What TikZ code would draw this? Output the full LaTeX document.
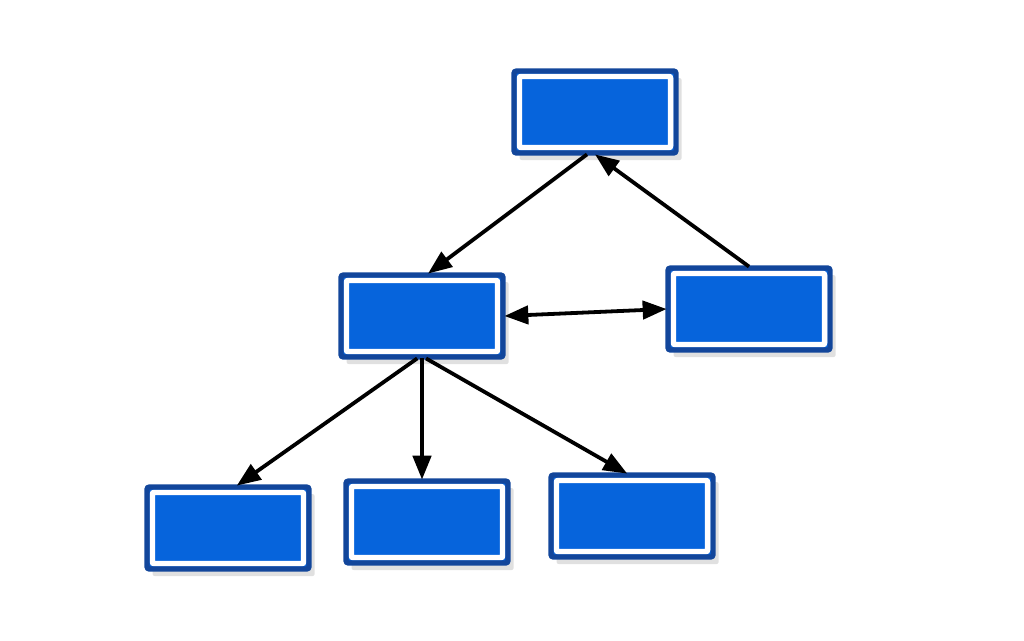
\documentclass[tikz,border=0pt]{standalone}
\usepackage{xcolor}
\usepackage{tikz}
\usetikzlibrary{arrows.meta, shadows}

\definecolor{boxfill}{RGB}{6,100,220}
\definecolor{boxedge}{RGB}{18,70,155}

\begin{document}
\begin{tikzpicture}[
    x=0.025cm, y=-0.025cm,
    unit/.style={
        draw=boxedge,
        fill=boxfill,
        line width=3.6pt,
        rounded corners=1.5pt,
        minimum width=4.05cm,
        minimum height=2.05cm,
        outer sep=1pt,
        drop shadow={shadow xshift=4pt, shadow yshift=-5pt, opacity=0.22, fill=black!55},
        path picture={
            \draw[white, line width=4pt]
                ([shift={(3.8pt,3.8pt)}]path picture bounding box.south west) rectangle
                ([shift={(-3.8pt,-3.8pt)}]path picture bounding box.north east);
        }
    },
    arrow/.style={
        -{Triangle[length=17pt, width=13pt]},
        line width=2.7pt
    },
    twoway/.style={
        {Triangle[length=17pt, width=13pt]}-{Triangle[length=17pt, width=13pt]},
        line width=2.7pt
    }
]

\useasboundingbox (0,0) rectangle (1024,640);

\node[unit] (root) at (595,112) {};

\node[unit] (mid) at (422,316) {};
\node[unit] (side) at (749,309) {};

\node[unit] (leafa) at (228,528) {};
\node[unit] (leafb) at (427,522) {};
\node[unit] (leafc) at (632,516) {};

\draw[arrow] ([xshift=-0.2cm]root.south) -- ([xshift=0.15cm]mid.north);
\draw[arrow] (side.north) -- (root.south);
\draw[twoway] (mid.east) -- (side.west);

\draw[arrow] ([xshift=-0.12cm]mid.south) -- ([xshift=0.22cm]leafa.north);
\draw[arrow] (mid.south) -- (mid.south |- leafb.north);
\draw[arrow] ([xshift=0.1cm]mid.south) -- ([xshift=-0.12cm]leafc.north);

\end{tikzpicture}
\end{document}
